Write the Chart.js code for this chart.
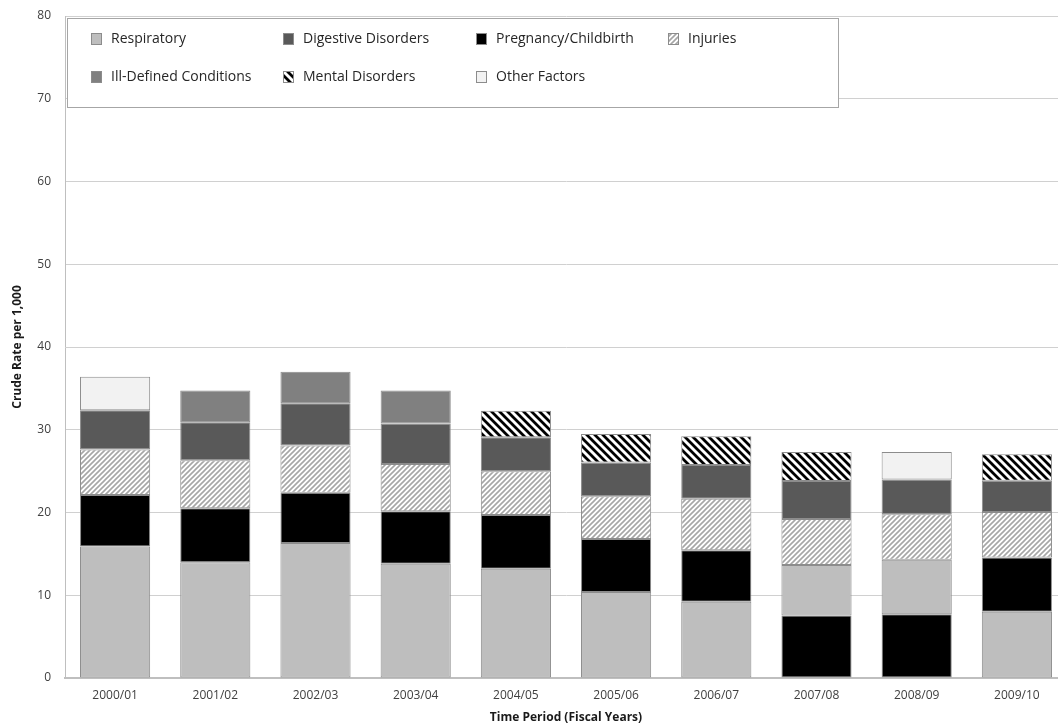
<!DOCTYPE html>
<html><head><meta charset="utf-8">
<script src="https://cdn.jsdelivr.net/npm/chart.js@4/dist/chart.umd.min.js"></script>
<style>html,body{margin:0;padding:0;background:#fff;overflow:hidden}#wrap{position:relative;width:1067px;height:726px}</style>
</head><body><div id="wrap"><canvas id="c"></canvas></div>
<script>
const periods = ['2000/01','2001/02','2002/03','2003/04','2004/05','2005/06','2006/07','2007/08','2008/09','2009/10'];
const seriesNames = ['Respiratory','Digestive Disorders','Pregnancy/Childbirth','Injuries','Ill-Defined Conditions','Mental Disorders','Other Factors'];
const respiratory  = [15.9, 14.0, 16.3, 13.8, 13.2, 10.4, 9.2, 6.1, 6.6, 8.0];
const digestive    = [4.75, 4.6, 5.1, 4.9, 4.1, 4.1, 4.1, 4.6, 4.2, 3.8];
const pregnancy    = [6.2, 6.5, 6.1, 6.35, 6.5, 6.4, 6.25, 7.55, 7.7, 6.55];
const injuries     = [5.5, 5.8, 5.7, 5.7, 5.3, 5.15, 6.2, 5.55, 5.5, 5.5];
const illDefined   = [null, 3.85, 3.8, 4.0, null, null, null, null, null, null];
const mental       = [null, null, null, null, 3.2, 3.45, 3.45, 3.5, null, 3.2];
const otherFactors = [4.05, null, null, null, null, null, null, null, 3.3, null];
const yMin = 0, yMax = 80, yStep = 10;

function hatch(size, bg, fg, lw, dir){
  const c=document.createElement('canvas'); c.width=c.height=size;
  const g=c.getContext('2d'); g.fillStyle=bg; g.fillRect(0,0,size,size);
  g.strokeStyle=fg; g.lineWidth=lw;
  g.beginPath();
  for (let o=-size;o<=size;o+=size){
    if(dir==='/'){ g.moveTo(o-1, size+1); g.lineTo(o+size+1, -1); }
    else { g.moveTo(o-1,-1); g.lineTo(o+size+1,size+1); }
  }
  g.stroke();
  return g.createPattern(c,'repeat');
}
const fills = ['#bebebe','#595959','#000000',hatch(5,'#ffffff','#a6a6a6',1.6,'/'),'#808080',hatch(8,'#ffffff','#000000',2.8,'\\'),'#f2f2f2'];
const values = [respiratory, digestive, pregnancy, injuries, illDefined, mental, otherFactors];

// build floating ranges: each bar stacked with largest value at the bottom
const ranges = values.map(()=>periods.map(()=>null));
periods.forEach((p,i)=>{
  const idx = values.map((v,k)=>k).filter(k=>values[k][i]!=null).sort((a,b)=>values[b][i]-values[a][i]);
  let base=0;
  idx.forEach(k=>{ ranges[k][i]=[base, base+values[k][i]]; base+=values[k][i]; });
});

const datasets = seriesNames.map((n,k)=>({
  label:n, data:ranges[k], backgroundColor:fills[k], borderColor:'#8c8c8c', borderWidth:1,
  borderSkipped:false, grouped:false, categoryPercentage:1, barPercentage:0.7
}));

const FONT = "'Open Sans', 'DejaVu Sans', sans-serif";
const boxLegend = {
  id:'boxLegend',
  afterDatasetsDraw(chart){
    const {ctx, chartArea:a} = chart;
    const x0=a.left+2, y0=a.top+2, w=771, h=89;
    ctx.save();
    ctx.fillStyle='#fff'; ctx.fillRect(x0,y0,w,h);
    ctx.strokeStyle='#a6a6a6'; ctx.lineWidth=1; ctx.strokeRect(x0+0.5,y0+0.5,w,h);
    ctx.font = "14px "+FONT; ctx.textBaseline='middle'; ctx.textAlign='left';
    chart.data.datasets.forEach((ds,k)=>{
      const col=k%4, row=Math.floor(k/4);
      const bx=Math.round(x0+24+col*192.3), cy=Math.round(y0+21+row*37.5);
      ctx.fillStyle=ds.backgroundColor; ctx.fillRect(bx,cy-6,10,12);
      ctx.strokeStyle='#8c8c8c'; ctx.strokeRect(bx+0.5,cy-5.5,10,11);
      ctx.fillStyle='#262626'; ctx.fillText(ds.label, bx+20, cy);
    });
    ctx.restore();
  }
};

new Chart(document.getElementById('c'), {
  type:'bar',
  data:{labels:periods, datasets},
  plugins:[boxLegend],
  options:{
    responsive:true, maintainAspectRatio:false, animation:false,
    layout:{padding:{top:16,left:0,right:0,bottom:0}},
    plugins:{legend:{display:false}, tooltip:{enabled:false}},
    scales:{
      x:{
        grid:{display:false, drawTicks:false},
        border:{color:'#bfbfbf', width:2},
        ticks:{font:{family:FONT,size:12}, color:'#404040', padding:10},
        title:{display:true, text:'Time Period (Fiscal Years)', font:{family:FONT,size:12,weight:'bold'}, color:'#1a1a1a', padding:{top:0,bottom:1}},
        afterFit(s){ s.height=48; s.paddingLeft=0; s.paddingRight=0; }
      },
      y:{
        min:yMin, max:yMax,
        grid:{color:'#d0d0d0', drawTicks:false},
        border:{color:'#bfbfbf', width:1},
        ticks:{stepSize:yStep, font:{family:FONT,size:12}, color:'#404040', padding:14},
        title:{display:true, text:'Crude Rate per 1,000', font:{family:FONT,size:12,weight:'bold'}, color:'#1a1a1a', padding:{top:10,bottom:0}},
        afterFit(s){ s.width=65; s.paddingTop=0; s.paddingBottom=0; }
      }
    }
  }
});
</script></body></html>
